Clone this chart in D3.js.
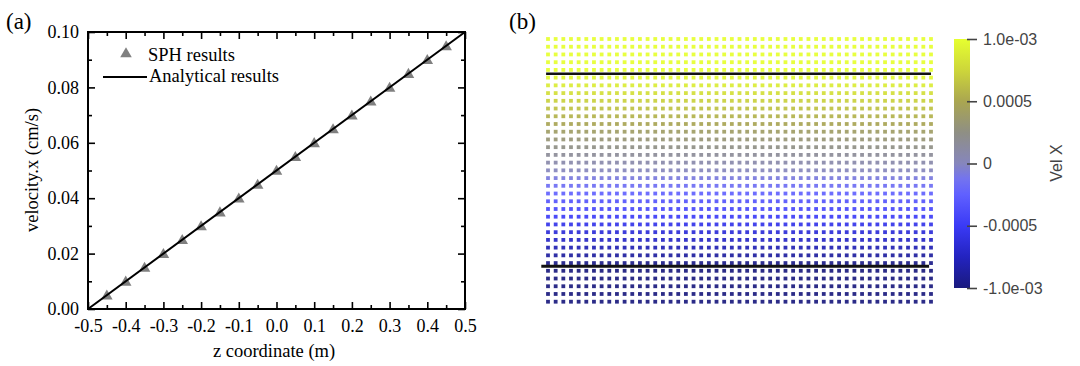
<!DOCTYPE html>
<html><head><meta charset="utf-8">
<script src="https://cdn.jsdelivr.net/npm/d3@7"></script>
<style>
html,body{margin:0;padding:0;background:#fff;}
svg{display:block;}
</style></head>
<body>
<svg id="chart" width="1080" height="366"></svg>
<script>
// ---------- Panel (a) data ----------
const sphZ   = [-0.45,-0.40,-0.35,-0.30,-0.25,-0.20,-0.15,-0.10,-0.05,0.00,0.05,0.10,0.15,0.20,0.25,0.30,0.35,0.40,0.45];
const sphVel = [0.005,0.010,0.015,0.020,0.025,0.030,0.035,0.040,0.045,0.050,0.055,0.060,0.065,0.070,0.075,0.080,0.085,0.090,0.095];
const anaZ   = [-0.5, 0.5];
const anaVel = [0.0, 0.1];
const xTicksA = [-0.5,-0.4,-0.3,-0.2,-0.1,0.0,0.1,0.2,0.3,0.4,0.5];
const xTickLabelsA = ["-0.5","-0.4","-0.3","-0.2","-0.1","0.0","0.1","0.2","0.3","0.4","0.5"];
const xMinorA = [-0.45,-0.35,-0.25,-0.15,-0.05,0.05,0.15,0.25,0.35,0.45];
const yTicksA = [0.00,0.02,0.04,0.06,0.08,0.10];
const yTickLabelsA = ["0.00","0.02","0.04","0.06","0.08","0.10"];
const yMinorA = [0.01,0.03,0.05,0.07,0.09];
const legendLabels = ["SPH results","Analytical results"];

// ---------- Panel (b) data ----------
const partX = [0.00,0.04,0.08,0.12,0.16,0.20,0.24,0.28,0.32,0.36,0.40,0.44,0.48,0.52,0.56,0.60,0.64,0.68,0.72,0.76,
               0.80,0.84,0.88,0.92,0.96,1.00,1.04,1.08,1.12,1.16,1.20,1.24,1.28,1.32,1.36,1.40,1.44,1.48,1.52,1.56,
               1.60,1.64,1.68,1.72,1.76,1.80,1.84,1.88,1.92,1.96,2.00];
const rowZ = [0.68,0.64,0.60,0.56,0.52,0.48,0.44,0.40,0.36,0.32,0.28,0.24,0.20,0.16,0.12,0.08,0.04,0.00,
              -0.04,-0.08,-0.12,-0.16,-0.20,-0.24,-0.28,-0.32,-0.36,-0.40,-0.44,-0.48,-0.52,-0.56,-0.60,-0.64,-0.68];
const rowVel = [1.0e-3,1.0e-3,1.0e-3,1.0e-3,1.0e-3,0.96e-3,0.88e-3,0.80e-3,0.72e-3,0.64e-3,0.56e-3,0.48e-3,0.40e-3,0.32e-3,0.24e-3,0.16e-3,0.08e-3,0.0,
                -0.08e-3,-0.16e-3,-0.24e-3,-0.32e-3,-0.40e-3,-0.48e-3,-0.56e-3,-0.64e-3,-0.72e-3,-0.80e-3,-0.88e-3,-0.96e-3,-1.0e-3,-1.0e-3,-1.0e-3,-1.0e-3,-1.0e-3];
const wallZ  = [0.5, -0.497];
const wallX0 = [-0.01, -0.035];
const wallX1 = [2.00, 1.99];
const cbTicks  = [1.0e-3, 0.0005, 0, -0.0005, -1.0e-3];
const cbLabels = ["1.0e-03","0.0005","0","-0.0005","-1.0e-03"];
const cmapVals = [-1.0e-3,-0.75e-3,-0.5e-3,-0.25e-3,-0.12e-3,0,0.25e-3,0.5e-3,0.75e-3,1.0e-3];
const cmapCols = ["#1a1a7e","#2323c0","#3a3af6","#6060ff","#7474ee","#8686bc","#8f8f84","#aaa650","#cdd63a","#e6ff30"];

const SERIF = "'Liberation Serif', 'Times New Roman', serif";
const SANS = "'Liberation Sans', Arial, sans-serif";
const svg = d3.select("#chart");

// ================= Panel (a) =================
const gA = svg.append("g");
const xA = d3.scaleLinear().domain([-0.5,0.5]).range([88,465]);
const yA = d3.scaleLinear().domain([0,0.1]).range([309,32]);

function axisStyle(g){
  g.attr("font-family",SERIF).attr("font-size",18);
  g.select(".domain").remove();
  g.selectAll("line").attr("stroke","#000").attr("stroke-width",1.6);
  g.selectAll("text").attr("fill","#000");
}

// bottom
gA.append("g").attr("transform","translate(0,309)")
  .call(d3.axisBottom(xA).tickValues(xTicksA).tickSize(-7).tickPadding(10).tickFormat((d,i)=>xTickLabelsA[i]))
  .call(axisStyle);
gA.append("g").attr("transform","translate(0,309)")
  .call(d3.axisBottom(xA).tickValues(xMinorA).tickSize(-4).tickFormat("")).call(axisStyle);
// top
gA.append("g").attr("transform","translate(0,32)")
  .call(d3.axisTop(xA).tickValues(xTicksA).tickSize(-7).tickFormat("")).call(axisStyle);
gA.append("g").attr("transform","translate(0,32)")
  .call(d3.axisTop(xA).tickValues(xMinorA).tickSize(-4).tickFormat("")).call(axisStyle);
// left
gA.append("g").attr("transform","translate(88,0)")
  .call(d3.axisLeft(yA).tickValues(yTicksA).tickSize(-7).tickPadding(9).tickFormat((d,i)=>yTickLabelsA[i]))
  .call(axisStyle);
gA.append("g").attr("transform","translate(88,0)")
  .call(d3.axisLeft(yA).tickValues(yMinorA).tickSize(-4).tickFormat("")).call(axisStyle);
// right
gA.append("g").attr("transform","translate(465,0)")
  .call(d3.axisRight(yA).tickValues(yTicksA).tickSize(-7).tickFormat("")).call(axisStyle);
gA.append("g").attr("transform","translate(465,0)")
  .call(d3.axisRight(yA).tickValues(yMinorA).tickSize(-4).tickFormat("")).call(axisStyle);

// frame
gA.append("rect").attr("x",88).attr("y",32).attr("width",465-88).attr("height",309-32)
  .attr("fill","none").attr("stroke","#000").attr("stroke-width",2);

// SPH triangles
const tri = d3.symbol().type(d3.symbolTriangle).size(58);
gA.selectAll("path.sph").data(sphZ.map((z,i)=>({z,v:sphVel[i]}))).join("path")
  .attr("class","sph").attr("d",tri)
  .attr("transform",d=>`translate(${xA(d.z)},${yA(d.v)+1})`)
  .attr("fill","#808080");
// analytical line
gA.append("path").datum(anaZ.map((z,i)=>({z,v:anaVel[i]})))
  .attr("d",d3.line().x(d=>xA(d.z)).y(d=>yA(d.v)))
  .attr("stroke","#000").attr("stroke-width",2).attr("fill","none");

// legend
const gL = gA.append("g").attr("font-family",SERIF).attr("font-size",18.5);
gL.append("path").attr("d",tri).attr("transform","translate(126,54)").attr("fill","#808080");
gL.append("text").attr("x",148).attr("y",61).text(legendLabels[0]);
gL.append("line").attr("x1",103).attr("x2",147).attr("y1",77).attr("y2",77).attr("stroke","#000").attr("stroke-width",2);
gL.append("text").attr("x",149).attr("y",82).text(legendLabels[1]);

// axis titles
const gT = gA.append("g").attr("font-family",SERIF);
gT.append("text").attr("x",274).attr("y",357).attr("text-anchor","middle").attr("font-size",18.5).text("z coordinate (m)");
gT.append("text").attr("transform","translate(38,170) rotate(-90)").attr("text-anchor","middle").attr("font-size",18.5).text("velocity.x (cm/s)");
gT.append("text").attr("x",6).attr("y",29).attr("font-size",23).text("(a)");
gT.append("text").attr("x",509).attr("y",29).attr("font-size",23).text("(b)");

// ================= Panel (b) =================
const gB = svg.append("g");
const xB = d3.scaleLinear().domain([0,2]).range([548,931]);
const yB = d3.scaleLinear().domain([0.68,-0.68]).range([39,301.7]);
const cmap = d3.scaleLinear().domain(cmapVals).range(cmapCols);

const pts = [];
rowZ.forEach((z,i)=>partX.forEach(x=>pts.push({x,z,v:rowVel[i]})));
gB.selectAll("rect.p").data(pts).join("rect").attr("class","p")
  .attr("x",d=>xB(d.x)-1.9).attr("y",d=>yB(d.z)-1.9).attr("width",3.8).attr("height",3.8)
  .attr("fill",d=>cmap(d.v)).attr("opacity",0.92);

// walls
gB.selectAll("line.wall").data(wallZ.map((z,i)=>({z,x0:wallX0[i],x1:wallX1[i]}))).join("line")
  .attr("class","wall")
  .attr("x1",d=>xB(d.x0)).attr("x2",d=>xB(d.x1)).attr("y1",d=>yB(d.z)).attr("y2",d=>yB(d.z))
  .attr("stroke","#111").attr("stroke-width",(d,i)=>i===0?2.4:3);

// colorbar
const yC = d3.scaleLinear().domain([-1e-3,1e-3]).range([288,39]);
const grad = svg.append("defs").append("linearGradient").attr("id","cbg")
  .attr("x1",0).attr("y1",1).attr("x2",0).attr("y2",0);
cmapVals.forEach((v,i)=>grad.append("stop").attr("offset",(v+1e-3)/2e-3).attr("stop-color",cmapCols[i]));
gB.append("rect").attr("x",954).attr("y",39).attr("width",16).attr("height",249).attr("fill","url(#cbg)");
const cbAxis = gB.append("g").attr("transform","translate(967,0)")
  .call(d3.axisRight(yC).tickValues(cbTicks).tickSize(10).tickPadding(6).tickFormat((d,i)=>cbLabels[i]));
cbAxis.attr("font-family",SANS).attr("font-size",16);
cbAxis.select(".domain").remove();
cbAxis.selectAll("line").attr("stroke","#444").attr("stroke-width",1.6);
cbAxis.selectAll("text").attr("fill","#444");
gB.append("text").attr("transform","translate(1062,163) rotate(-90)").attr("text-anchor","middle")
  .attr("font-family",SANS).attr("font-size",16).attr("fill","#444").text("Vel X");
</script>
</body></html>
